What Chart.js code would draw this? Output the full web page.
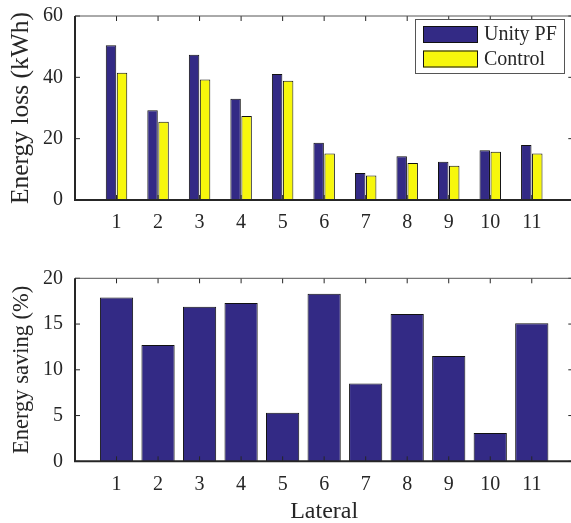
<!DOCTYPE html>
<html>
<head>
<meta charset="utf-8">
<script src="https://cdn.jsdelivr.net/npm/chart.js@4/dist/chart.umd.min.js"></script>
<style>
  html, body { margin: 0; padding: 0; background: #fff; overflow: hidden; width: 571px; height: 523px; }
  .box { position: absolute; left: 0; width: 580px; }
  #topBox { top: 0; height: 250px; }
  #botBox { top: 255px; height: 280px; }
</style>
</head>
<body>
<div class="box" id="topBox"><canvas id="lossChart" width="580" height="250"></canvas></div>
<div class="box" id="botBox"><canvas id="savingChart" width="580" height="280"></canvas></div>
<script>
// Daten
const laterals = [1, 2, 3, 4, 5, 6, 7, 8, 9, 10, 11];
const lossUnity = [50.5, 29.3, 47.4, 33.0, 41.1, 18.7, 8.8, 14.3, 12.5, 16.2, 17.9];
const lossControl = [41.5, 25.5, 39.3, 27.4, 38.9, 15.2, 8.0, 12.1, 11.2, 15.7, 15.2];
const savingPct = [17.9, 12.7, 16.9, 17.3, 5.3, 18.3, 8.5, 16.1, 11.5, 3.1, 15.1];
const lossTicks = [0, 20, 40, 60];
const savingTicks = [0, 5, 10, 15, 20];

const BLUE = '#332a85';
const YELLOW = '#f7f70c';
const FONT = "'Liberation Serif', 'Times New Roman', serif";
const TEXT = '#262626';

const toXY = (vals) => laterals.map((l, i) => ({ x: l, y: vals[i] }));

// Rahmen + Ticks nach innen (MATLAB-Stil)
const framePlugin = {
  id: 'frame',
  afterDatasetsDraw(chart) {
    const { ctx, chartArea: a, scales: { x, y } } = chart;
    ctx.save();
    ctx.strokeStyle = '#262626';
    ctx.lineWidth = 1;
    laterals.forEach(v => {
      const px = x.getPixelForValue(v);
      ctx.beginPath();
      ctx.moveTo(px, a.bottom); ctx.lineTo(px, a.bottom - 5);
      ctx.moveTo(px, a.top); ctx.lineTo(px, a.top + 5);
      ctx.stroke();
    });
    y.ticks.forEach(t => {
      const py = y.getPixelForValue(t.value);
      ctx.beginPath();
      ctx.moveTo(a.left, py); ctx.lineTo(a.left + 5, py);
      ctx.moveTo(a.right, py); ctx.lineTo(a.right - 5, py);
      ctx.stroke();
    });
    // oben + rechts
    ctx.strokeStyle = '#555';
    ctx.beginPath();
    ctx.moveTo(a.left, a.top); ctx.lineTo(a.right, a.top); ctx.lineTo(a.right, a.bottom);
    ctx.stroke();
    // links + unten
    ctx.strokeStyle = '#262626';
    ctx.lineWidth = 2;
    ctx.beginPath();
    ctx.moveTo(a.left, a.top); ctx.lineTo(a.left, a.bottom); ctx.lineTo(a.right, a.bottom);
    ctx.stroke();
    ctx.restore();
  }
};

// Legende im Plotbereich oben rechts
const boxLegend = {
  id: 'boxLegend',
  afterDraw(chart) {
    const { ctx } = chart;
    const x0 = 415, y0 = 19, w = 149, h = 54;
    ctx.save();
    ctx.fillStyle = '#fff';
    ctx.fillRect(x0, y0, w, h);
    ctx.strokeStyle = '#555';
    ctx.lineWidth = 1;
    ctx.strokeRect(x0 + 0.5, y0 + 0.5, w, h);
    ctx.font = '20px ' + FONT;
    ctx.textBaseline = 'middle';
    chart.data.datasets.forEach((ds, i) => {
      const sy = 26 + i * 24.5;
      ctx.fillStyle = ds.backgroundColor;
      ctx.fillRect(423, sy, 55, 17);
      ctx.strokeStyle = '#111';
      ctx.strokeRect(423.5, sy + 0.5, 54, 16);
      ctx.fillStyle = TEXT;
      ctx.fillText(ds.label, 484, sy + 9);
    });
    ctx.restore();
  }
};

function axisX(height, title) {
  return {
    type: 'linear', min: 0, max: 12, offset: false,
    grid: { display: false, offset: false }, border: { display: false },
    ticks: {
      stepSize: 1, padding: 3, color: TEXT, font: { family: FONT, size: 20 },
      callback: v => (v >= 1 && v <= 11) ? String(v) : ''
    },
    title: title ? { display: true, text: title, color: TEXT, font: { family: FONT, size: 24 }, padding: { top: 0, bottom: 9 } } : { display: false },
    afterFit(s) { s.height = height; }
  };
}

function axisY(max, step, title, titleSize, titlePad) {
  return {
    min: 0, max: max,
    grid: { display: false }, border: { display: false },
    ticks: { stepSize: step, padding: 4, color: TEXT, font: { family: FONT, size: 20 } },
    title: { display: true, text: title, color: TEXT, font: { family: FONT, size: titleSize }, padding: { top: titlePad, bottom: 0 } },
    afterFit(s) { s.width = 75; }
  };
}

new Chart(document.getElementById('lossChart'), {
  type: 'bar',
  data: {
    datasets: [
      { label: 'Unity PF', data: toXY(lossUnity), backgroundColor: BLUE, borderColor: '#111', borderWidth: 1, categoryPercentage: 0.53, barPercentage: 0.95 },
      { label: 'Control', data: toXY(lossControl), backgroundColor: YELLOW, borderColor: '#111', borderWidth: 1, categoryPercentage: 0.53, barPercentage: 0.95 }
    ]
  },
  options: {
    responsive: false, animation: false,
    layout: { padding: { top: 16, right: 6.7, left: 0, bottom: 0 } },
    plugins: { legend: { display: false }, tooltip: { enabled: false } },
    scales: {
      x: axisX(50, null),
      y: axisY(lossTicks[lossTicks.length - 1], lossTicks[1] - lossTicks[0], 'Energy loss (kWh)', 25.5, 6)
    }
  },
  plugins: [framePlugin, boxLegend]
});

new Chart(document.getElementById('savingChart'), {
  type: 'bar',
  data: {
    datasets: [
      { label: 'Energy saving', data: toXY(savingPct), backgroundColor: BLUE, borderColor: '#111', borderWidth: 1, categoryPercentage: 0.8, barPercentage: 1 }
    ]
  },
  options: {
    responsive: false, animation: false,
    layout: { padding: { top: 23.3, right: 6.7, left: 0, bottom: 0 } },
    plugins: { legend: { display: false }, tooltip: { enabled: false } },
    scales: {
      x: axisX(73.7, 'Lateral'),
      y: axisY(savingTicks[savingTicks.length - 1], savingTicks[1] - savingTicks[0], 'Energy saving (%)', 22.5, 9)
    }
  },
  plugins: [framePlugin]
});
</script>
</body>
</html>
